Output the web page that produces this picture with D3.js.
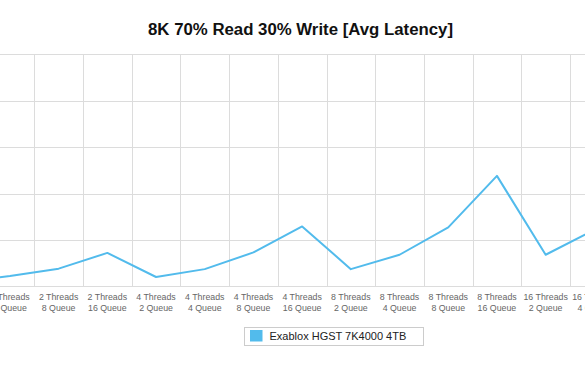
<!DOCTYPE html>
<html>
<head>
<meta charset="utf-8">
<script src="https://cdn.jsdelivr.net/npm/d3@7"></script>
<style>
body { margin: 0; background: #fff; overflow: hidden; }
svg { display: block; font-family: "Liberation Sans", Arial, Helvetica, sans-serif; }
</style>
</head>
<body>
<div id="chart"></div>
<script>
// categories (the chart is a window onto a wider plot, neighbours are partly off-screen)
var threads = ["2 Threads", "2 Threads", "2 Threads", "2 Threads", "4 Threads", "4 Threads", "4 Threads", "4 Threads",
               "8 Threads", "8 Threads", "8 Threads", "8 Threads", "16 Threads", "16 Threads"];
var queues = ["2 Queue", "4 Queue", "8 Queue", "16 Queue", "2 Queue", "4 Queue", "8 Queue", "16 Queue",
              "2 Queue", "4 Queue", "8 Queue", "16 Queue", "2 Queue", "4 Queue"];
// avg latency values
var latency = [0.9, 2.2, 3.8, 7.2, 2.0, 3.7, 7.3, 12.9, 3.7, 6.8, 12.7, 23.8, 6.8, 12.2];
var yTicks = [0, 10, 20, 30, 40, 50];
var seriesName = "Exablox HGST 7K4000 4TB";
var chartTitle = "8K 70% Read 30% Write [Avg Latency]";

var width = 585, height = 375;
var bandW = 48.7;
var x0 = 34.3 - 2 * bandW;   // left edge of the first band (off-screen)

var cats = threads.map(function(t, i){ return i; });

var x = d3.scaleBand()
    .domain(cats)
    .range([x0, x0 + cats.length * bandW]);

var y = d3.scaleLinear()
    .domain([0, 50])
    .range([286.3, 54.3]);

var svg = d3.select("#chart")
    .append("svg")
    .attr("width", width)
    .attr("height", height);

// title
svg.append("text")
    .attr("x", 300.5)
    .attr("y", 35)
    .attr("text-anchor", "middle")
    .style("font-size", "16.8px")
    .style("font-weight", "bold")
    .style("fill", "#111")
    .text(chartTitle);

// horizontal grid
svg.append("g")
    .selectAll("line")
    .data(yTicks)
    .enter().append("line")
    .attr("x1", x.range()[0])
    .attr("x2", x.range()[1])
    .attr("y1", function(d){ return Math.round(y(d)) + 0.5; })
    .attr("y2", function(d){ return Math.round(y(d)) + 0.5; })
    .style("stroke", "#dcdcdc")
    .style("stroke-width", 1);

// vertical grid at band edges
var edges = cats.map(function(d){ return x(d); }).concat([x.range()[1]]);
svg.append("g")
    .selectAll("line")
    .data(edges)
    .enter().append("line")
    .attr("x1", function(d){ return Math.round(d) + 0.5; })
    .attr("x2", function(d){ return Math.round(d) + 0.5; })
    .attr("y1", y(50))
    .attr("y2", y(0))
    .style("stroke", "#dcdcdc")
    .style("stroke-width", 1);

// x labels, two lines each
var labels = svg.append("g")
    .selectAll("text")
    .data(cats)
    .enter().append("text")
    .attr("text-anchor", "middle")
    .style("font-size", "8.8px")
    .style("fill", "#666");
labels.append("tspan")
    .attr("x", function(d){ return x(d) + x.bandwidth() / 2; })
    .attr("y", 300)
    .text(function(d){ return threads[d]; });
labels.append("tspan")
    .attr("x", function(d){ return x(d) + x.bandwidth() / 2; })
    .attr("y", 310.5)
    .text(function(d){ return queues[d]; });

// line
var line = d3.line()
    .x(function(d){ return x(d) + x.bandwidth() / 2; })
    .y(function(d){ return y(latency[d]); });

svg.append("path")
    .datum(cats)
    .attr("d", line)
    .style("fill", "none")
    .style("stroke", "#52bbec")
    .style("stroke-width", 2)
    .style("stroke-linejoin", "round");

// legend
var legend = svg.append("g");
legend.append("rect")
    .attr("x", 244.5)
    .attr("y", 327.5)
    .attr("width", 179)
    .attr("height", 18)
    .style("fill", "#fff")
    .style("stroke", "#cccccc");
legend.append("rect")
    .attr("x", 250)
    .attr("y", 330)
    .attr("width", 12.5)
    .attr("height", 11.5)
    .style("fill", "#52bbec");
legend.append("text")
    .attr("x", 269.5)
    .attr("y", 340)
    .style("font-size", "11px")
    .style("fill", "#222")
    .text(seriesName);
</script>
</body>
</html>
